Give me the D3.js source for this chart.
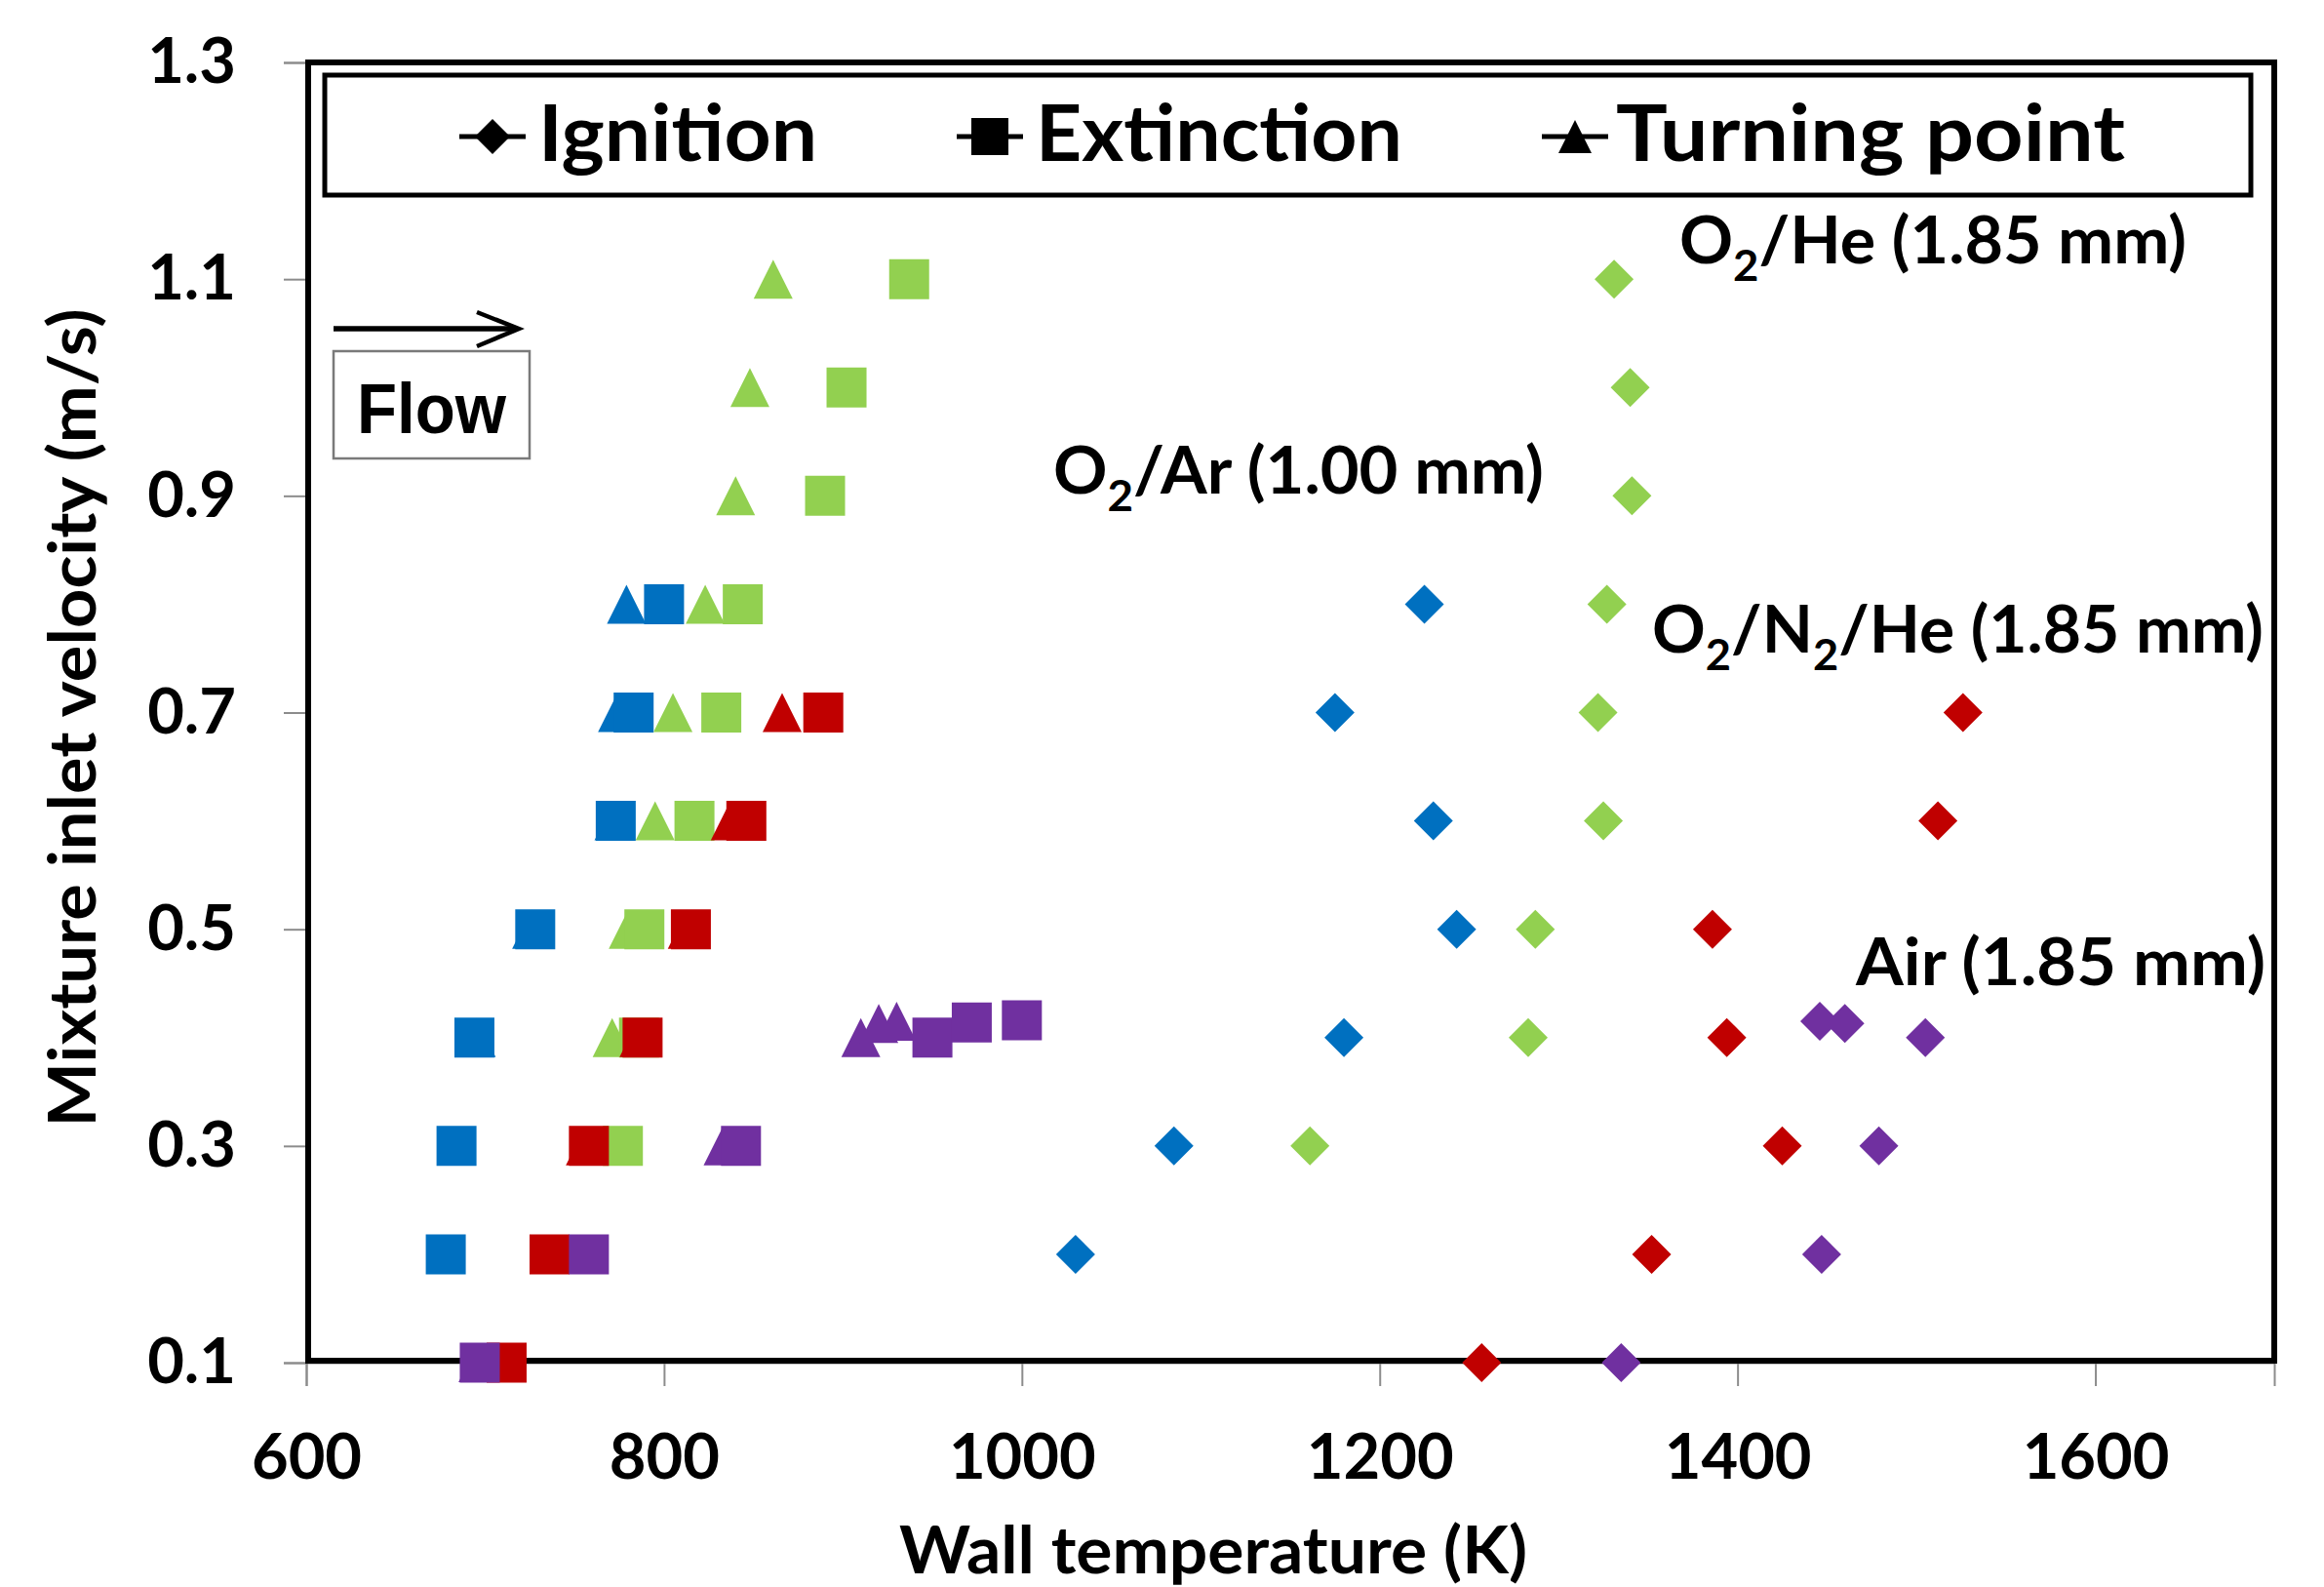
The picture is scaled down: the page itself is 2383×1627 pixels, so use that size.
<!DOCTYPE html>
<html>
<head>
<meta charset="utf-8">
<script src="https://cdn.jsdelivr.net/npm/d3@7"></script>
<style>
  html, body { margin: 0; padding: 0; background: #fff; }
  svg { display: block; }
  text { font-family: "Lato", "Noto Sans", sans-serif; font-weight: 700; fill: #000; }
</style>
</head>
<body>
<script>
// ---------------- data ----------------
const tempTicks = [600, 800, 1000, 1200, 1400, 1600];
const velocityTicks = [0.1, 0.3, 0.5, 0.7, 0.9, 1.1, 1.3];

const gasNames  = ["O2/Ar (1.00 mm)", "O2/He (1.85 mm)", "O2/N2/He (1.85 mm)", "Air (1.85 mm)"];
const gasColors = ["#0070C0", "#92D050", "#C00000", "#7030A0"];
const legendLabels = ["Ignition", "Extinction", "Turning point"];

// [wall temperature (K), inlet velocity (m/s)]
const arIgnition   = [[1030,0.2],[1085,0.3],[1180,0.4],[1243,0.5],[1230,0.6],[1175,0.7],[1225,0.8]];
const arExtinction = [[678,0.2],[684,0.3],[694,0.4],[728,0.5],[773,0.6],[783,0.7],[800,0.8]];
const arTurning    = [[695,0.4],[726,0.5],[772,0.6],[774,0.7],[779,0.8]];

const heIgnition   = [[1161,0.3],[1283,0.4],[1287,0.5],[1325,0.6],[1322,0.7],[1327,0.8],[1341,0.9],[1340,1.0],[1331,1.1]];
const heExtinction = [[777,0.3],[786,0.4],[789,0.5],[817,0.6],[832,0.7],[844,0.8],[890,0.9],[902,1.0],[937,1.1]];
const heTurning    = [[771,0.4],[780,0.5],[795,0.6],[805,0.7],[823,0.8],[840,0.9],[848,1.0],[861,1.1]];

const n2Ignition   = [[1257,0.1],[1352,0.2],[1425,0.3],[1394,0.4],[1386,0.5],[1512,0.6],[1526,0.7]];
const n2Extinction = [[712,0.1],[736,0.2],[758,0.3],[788,0.4],[815,0.5],[846,0.6],[889,0.7]];
const n2Turning    = [[756,0.3],[786,0.4],[813,0.5],[837,0.6],[866,0.7]];

const airIgnition   = [[1335,0.1],[1447,0.2],[1479,0.3],[1505,0.4],[1460,0.413],[1446,0.415]];
const airExtinction = [[697,0.1],[758,0.2],[843,0.3],[950,0.4],[972,0.414],[1000,0.416]];
const airTurning    = [[696,0.1],[833,0.3],[910,0.4],[920,0.413],[930,0.415]];

// series in drawing order (per gas: turning, extinction, ignition)
const series = [
  {gas:0, type:"turning", pts:arTurning},  {gas:0, type:"extinction", pts:arExtinction},  {gas:0, type:"ignition", pts:arIgnition},
  {gas:1, type:"turning", pts:heTurning},  {gas:1, type:"extinction", pts:heExtinction},  {gas:1, type:"ignition", pts:heIgnition},
  {gas:2, type:"turning", pts:n2Turning},  {gas:2, type:"extinction", pts:n2Extinction},  {gas:2, type:"ignition", pts:n2Ignition},
  {gas:3, type:"turning", pts:airTurning}, {gas:3, type:"extinction", pts:airExtinction}, {gas:3, type:"ignition", pts:airIgnition}
];

// ---------------- layout ----------------
const W = 2383, H = 1627;
const plot = {left: 314, right: 2332, top: 64, bottom: 1397};

const svg = d3.select("body").append("svg").attr("width", W).attr("height", H);
svg.append("rect").attr("width", W).attr("height", H).attr("fill", "#fff");

const x = d3.scaleLinear().domain([600, 1700]).range([plot.left, plot.right]);
const y = d3.scaleLinear().domain([0.1, 1.3]).range([plot.bottom, plot.top]);

// marker shapes
function markerPath(type, cx, cy, s) {
  const h = s / 2;
  if (type === "ignition") return `M${cx},${cy-h}L${cx+h},${cy}L${cx},${cy+h}L${cx-h},${cy}Z`;
  if (type === "extinction") return `M${cx-h},${cy-h}H${cx+h}V${cy+h}H${cx-h}Z`;
  return `M${cx},${cy-h}L${cx+h},${cy+h}L${cx-h},${cy+h}Z`;
}
const markerSize = {ignition: 40, extinction: 41, turning: 40};

// ---------------- axes ----------------
const xAxis = svg.append("g")
  .attr("transform", `translate(0,${plot.bottom})`)
  .call(d3.axisBottom(x).tickValues(tempTicks).tickSize(24).tickPadding(49).tickFormat(d3.format("d")));
const yAxis = svg.append("g")
  .attr("transform", `translate(${plot.left},0)`)
  .call(d3.axisLeft(y).tickValues(velocityTicks).tickSize(23).tickPadding(49).tickFormat(d3.format(".1f")));

[xAxis, yAxis].forEach(g => {
  g.select(".domain").attr("stroke", "#8c8c8c").attr("stroke-width", 2);
  g.selectAll(".tick line").attr("stroke", "#8c8c8c").attr("stroke-width", 2);
  g.selectAll(".tick text")
    .attr("fill", "#000")
    .style("font-family", "Lato, 'Noto Sans', sans-serif")
    .style("font-weight", 700)
    .style("font-size", "65px");
});

// plot area border
svg.append("rect")
  .attr("x", plot.left + 2).attr("y", plot.top)
  .attr("width", plot.right - plot.left - 2).attr("height", plot.bottom - plot.top - 2)
  .attr("fill", "none").attr("stroke", "#000").attr("stroke-width", 6);

// axis titles
svg.append("text")
  .attr("x", 1244).attr("y", 1613)
  .attr("text-anchor", "middle")
  .attr("textLength", 644).attr("lengthAdjust", "spacingAndGlyphs")
  .style("font-size", "66px")
  .text("Wall temperature (K)");

svg.append("text")
  .attr("transform", "translate(98,736) rotate(-90)")
  .attr("text-anchor", "middle")
  .attr("textLength", 839).attr("lengthAdjust", "spacingAndGlyphs")
  .style("font-size", "66px")
  .text("Mixture inlet velocity (m/s)");

// ---------------- markers ----------------
const mk = svg.append("g");
series.forEach(s => {
  mk.append("g").selectAll("path")
    .data(s.pts)
    .join("path")
    .attr("d", d => markerPath(s.type, x(d[0]), y(d[1]), markerSize[s.type]))
    .attr("fill", gasColors[s.gas]);
});

// ---------------- legend ----------------
const lg = svg.append("g");
lg.append("rect").attr("x", 333).attr("y", 77).attr("width", 1975).attr("height", 123)
  .attr("fill", "#fff").attr("stroke", "#000").attr("stroke-width", 5);
const legendItems = [
  {type: "ignition",   cx: 505,  tx: 552,  w: 286, s: 36},
  {type: "extinction", cx: 1015, tx: 1062, w: 376, s: 38},
  {type: "turning",    cx: 1615, tx: 1657, w: 522, s: 34}
];
legendItems.forEach((it, i) => {
  lg.append("line").attr("x1", it.cx - 34).attr("x2", it.cx + 34).attr("y1", 140).attr("y2", 140)
    .attr("stroke", "#000").attr("stroke-width", 5);
  lg.append("path").attr("d", markerPath(it.type, it.cx, 140, it.s)).attr("fill", "#000");
  lg.append("text").attr("x", it.tx).attr("y", 165)
    .attr("textLength", it.w).attr("lengthAdjust", "spacingAndGlyphs")
    .style("font-size", "80px").text(legendLabels[i]);
});

// ---------------- annotations ----------------
function gasLabel(parts, xPos, yPos, len) {
  const t = svg.append("text").attr("x", xPos).attr("y", yPos)
    .attr("textLength", len).attr("lengthAdjust", "spacingAndGlyphs")
    .style("font-size", "66px");
  parts.forEach(p => {
    if (p.sub) {
      t.append("tspan").attr("dy", 18).style("font-size", "44px").text(p.t);
    } else {
      t.append("tspan").attr("dy", p.back ? -18 : 0).text(p.t);
    }
  });
}
// O2/He (1.85 mm)
gasLabel([{t:"O"},{t:"2",sub:true},{t:"/He (1.85 mm)",back:true}], 1722, 270, 520);
// O2/Ar (1.00 mm)
gasLabel([{t:"O"},{t:"2",sub:true},{t:"/Ar (1.00 mm)",back:true}], 1080, 506, 503);
// O2/N2/He (1.85 mm)
gasLabel([{t:"O"},{t:"2",sub:true},{t:"/N",back:true},{t:"2",sub:true},{t:"/He (1.85 mm)",back:true}], 1694, 669, 627);
// Air (1.85 mm)
gasLabel([{t:"Air (1.85 mm)"}], 1903, 1010, 420);

// ---------------- flow indicator ----------------
svg.append("line").attr("x1", 342).attr("x2", 528).attr("y1", 337).attr("y2", 337)
  .attr("stroke", "#000").attr("stroke-width", 5.5);
svg.append("polyline").attr("points", "489,320 532,337 489,355")
  .attr("fill", "none").attr("stroke", "#000").attr("stroke-width", 4.5);
svg.append("rect").attr("x", 342).attr("y", 360).attr("width", 201).attr("height", 110)
  .attr("fill", "none").attr("stroke", "#7a7a7a").attr("stroke-width", 2.5);
svg.append("text").attr("x", 366).attr("y", 444)
  .attr("textLength", 153).attr("lengthAdjust", "spacingAndGlyphs")
  .style("font-family", "'Liberation Sans', Arial, sans-serif")
  .style("font-size", "72px").text("Flow");
</script>
</body>
</html>
